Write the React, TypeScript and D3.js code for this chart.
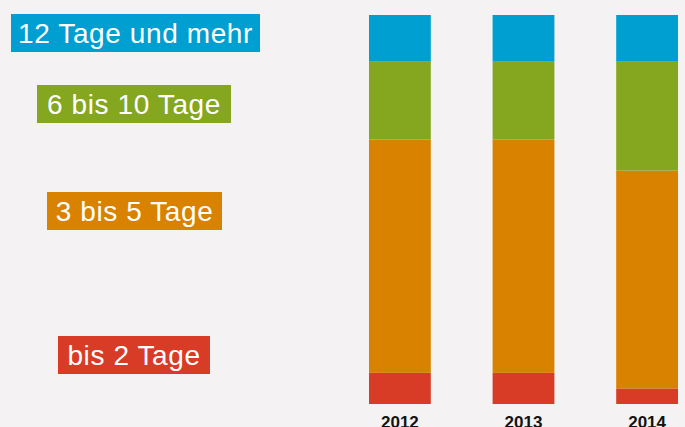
import React from "react";
import * as d3 from "d3";

const years = ["2012", "2013", "2014"];
const categories = ["bis 2 Tage", "3 bis 5 Tage", "6 bis 10 Tage", "12 Tage und mehr"];
const bis2 = [8, 8, 4];
const bis5 = [60, 60, 56];
const bis10 = [20, 20, 28];
const mehr12 = [12, 12, 12];
const colors = ["#d83c26", "#d98200", "#84a71f", "#009fd2"];

const W = 685;
const H = 427;

// legend box layout (x, y, width)
const legendBoxes = [
  { x: 58, y: 336, w: 152 },
  { x: 47, y: 192, w: 175 },
  { x: 37, y: 85, w: 194 },
  { x: 11, y: 14, w: 249 },
];

export default function App() {
  const series = [bis2, bis5, bis10, mehr12];
  const rows = years.map((y, i) => {
    const r: any = { year: y };
    categories.forEach((c, k) => (r[c] = series[k][i]));
    return r;
  });
  const stacked = d3.stack().keys(categories)(rows);
  const x = d3.scaleBand().domain(years).range([369, 678]).paddingInner(0.5).paddingOuter(0);
  const y = d3.scaleLinear().domain([0, 100]).range([404, 15]);

  return (
    <svg
      width={W}
      height={H}
      style={{ position: "fixed", left: 0, top: 0, background: "#f4f2f3" }}
      fontFamily="'Liberation Sans', Arial, Helvetica, sans-serif"
    >
      <rect x={0} y={0} width={W} height={H} fill="#f4f2f3" />
      {stacked.map((layer, k) =>
        layer.map((d, i) => (
          <rect
            key={`${k}-${i}`}
            x={x(years[i])}
            y={y(d[1])}
            width={x.bandwidth()}
            height={y(d[0]) - y(d[1])}
            fill={colors[k]}
          />
        ))
      )}
      {years.map((yr) => (
        <text
          key={yr}
          x={(x(yr) as number) + x.bandwidth() / 2}
          y={427.5}
          textAnchor="middle"
          fontSize={17}
          fontWeight="bold"
          fill="#111"
        >
          {yr}
        </text>
      ))}
      {categories.map((c, k) => {
        const b = legendBoxes[k];
        return (
          <g key={c}>
            <rect x={b.x} y={b.y} width={b.w} height={38} fill={colors[k]} />
            <text
              x={b.x + b.w / 2}
              y={b.y + 28.5}
              textAnchor="middle"
              fontSize={28}
              letterSpacing={0.6}
              fill="#fff"
            >
              {c}
            </text>
          </g>
        );
      })}
    </svg>
  );
}
